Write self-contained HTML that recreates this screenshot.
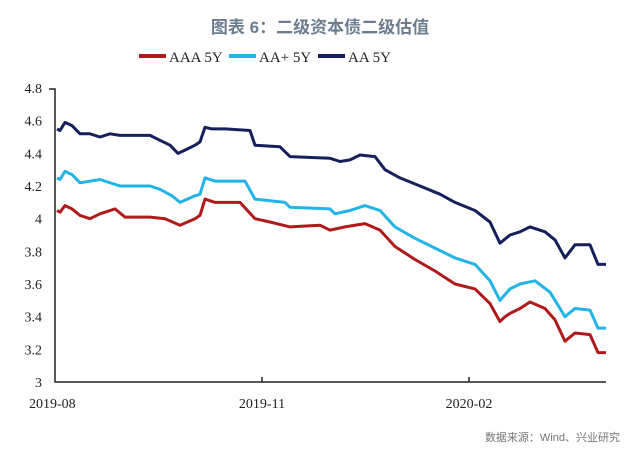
<!DOCTYPE html>
<html><head><meta charset="utf-8"><style>
body{margin:0;background:#fff;width:640px;height:458px;overflow:hidden}
svg text{font-family:"Liberation Serif",serif;font-size:14px;fill:#222}
</style></head><body>
<svg id="s" width="640" height="458" xmlns="http://www.w3.org/2000/svg">
<text x="320" y="33" text-anchor="middle" style="font-family:'Liberation Sans','Noto Sans CJK SC',sans-serif;font-size:17px;font-weight:bold;fill:#6b7d8f">图表 6：二级资本债二级估值</text>
<line x1="139" y1="56" x2="166" y2="56" stroke="#b01a1a" stroke-width="4"/>
<text x="169" y="62" style="font-size:15px">AAA 5Y</text>
<line x1="229" y1="56" x2="256" y2="56" stroke="#22b4e6" stroke-width="4"/>
<text x="259" y="62" style="font-size:15px">AA+ 5Y</text>
<line x1="318" y1="56" x2="345" y2="56" stroke="#14205a" stroke-width="4"/>
<text x="348" y="62" style="font-size:15px">AA 5Y</text>
<g id="ax" stroke="#222" stroke-width="1.5" fill="none">
<polyline points="49,89 55,89 55,382 606,382"/>
<line x1="262" y1="382" x2="262" y2="377"/><line x1="469" y1="382" x2="469" y2="377"/>
</g>
<g id="yl" text-anchor="end"></g>
<text x="29" y="408" text-anchor="start">2019-08</text>
<text x="262" y="408" text-anchor="middle">2019-11</text>
<text x="469" y="408" text-anchor="middle">2020-02</text>
<text x="620" y="441" text-anchor="end" style="font-family:'Liberation Sans','Noto Sans CJK SC',sans-serif;font-size:11px;fill:#777">数据来源：Wind、兴业研究</text>
</svg>
<script>
var s=document.getElementById('s'),ns='http://www.w3.org/2000/svg';
function Y(v){return 382-(v-3)*163.3}
var yl=document.getElementById('yl');
['3','3.2','3.4','3.6','3.8','4','4.2','4.4','4.6','4.8'].forEach(function(t,i){var e=document.createElementNS(ns,'text');e.setAttribute('x',42);e.setAttribute('y',Y(+t)+5);e.textContent=t;yl.appendChild(e);});
function L(d,c){var p=[];for(var i=0;i<d.length;i+=2)p.push(d[i]+','+Y(d[i+1]).toFixed(1));var e=document.createElementNS(ns,'polyline');e.setAttribute('points',p.join(' '));e.setAttribute('fill','none');e.setAttribute('stroke',c);e.setAttribute('stroke-width','3');e.setAttribute('stroke-linejoin','round');s.appendChild(e);}
L([57,4.55,60,4.54,65,4.59,72,4.57,80,4.52,90,4.52,100,4.5,110,4.52,120,4.51,150,4.51,160,4.48,170,4.45,178,4.4,185,4.42,195,4.45,200,4.47,205,4.56,212,4.55,225,4.55,250,4.54,255,4.45,280,4.44,290,4.38,330,4.37,340,4.35,350,4.36,360,4.39,375,4.38,385,4.3,400,4.25,420,4.2,440,4.15,455,4.1,475,4.05,490,3.98,500,3.85,510,3.9,520,3.92,530,3.95,545,3.92,555,3.87,565,3.76,575,3.84,590,3.84,598,3.72,606,3.72],'#14205a');
L([57,4.25,60,4.24,65,4.29,72,4.27,80,4.22,100,4.24,120,4.2,150,4.2,160,4.18,172,4.14,180,4.1,195,4.14,200,4.15,205,4.25,215,4.23,245,4.23,255,4.12,285,4.1,290,4.07,330,4.06,335,4.03,350,4.05,365,4.08,380,4.05,395,3.95,415,3.88,435,3.82,455,3.76,475,3.72,490,3.62,500,3.5,510,3.57,520,3.6,535,3.62,550,3.55,565,3.4,575,3.45,590,3.44,598,3.33,606,3.33],'#22b4e6');
L([57,4.05,60,4.04,65,4.08,72,4.06,80,4.02,90,4.0,100,4.03,115,4.06,125,4.01,150,4.01,165,4.0,180,3.96,195,4.0,200,4.02,205,4.12,215,4.1,240,4.1,255,4.0,270,3.98,290,3.95,320,3.96,330,3.93,345,3.95,365,3.97,380,3.93,395,3.83,415,3.75,435,3.68,455,3.6,475,3.57,490,3.48,500,3.37,505,3.4,510,3.42,520,3.45,530,3.49,545,3.45,555,3.38,565,3.25,575,3.3,590,3.29,598,3.18,606,3.18],'#b01a1a');
</script>
</body></html>
